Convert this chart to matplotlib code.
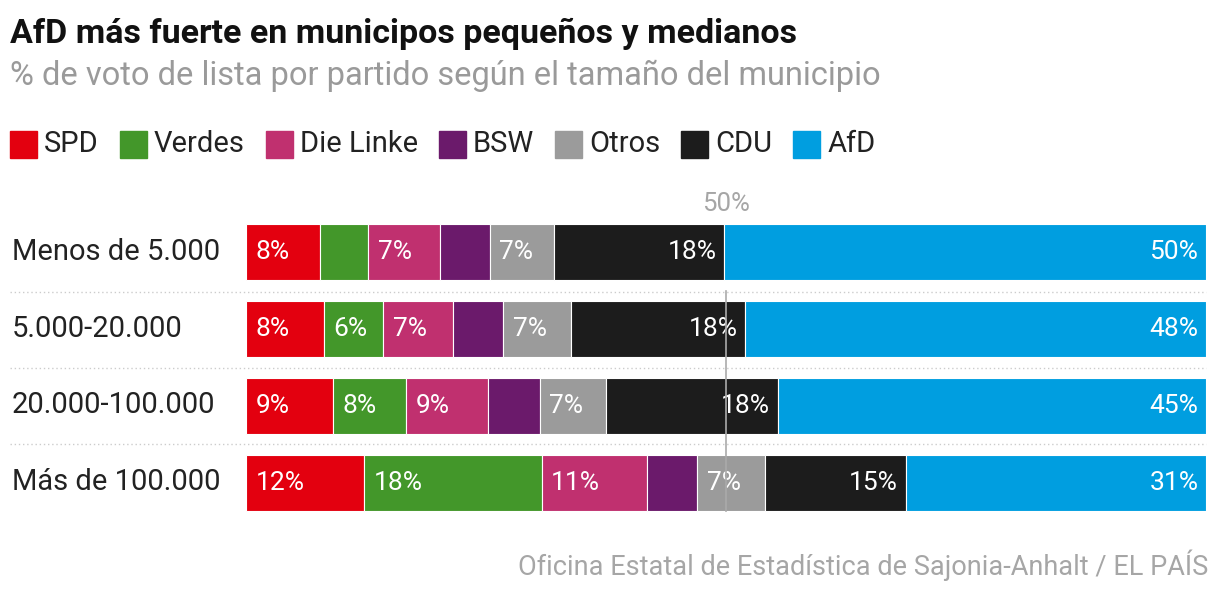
import numpy as np
import matplotlib.pyplot as plt

plt.rcParams['font.family'] = ['Roboto', 'DejaVu Sans']

categories = ['Menos de 5.000', '5.000-20.000', '20.000-100.000', 'Más de 100.000']
parties = ['SPD', 'Verdes', 'Die Linke', 'BSW', 'Otros', 'CDU', 'AfD']
colors = ['#e3000f', '#43972a', '#c0306f', '#6b1a6b', '#9b9b9b', '#1c1c1c', '#009ee0']
values = {
    'SPD':       [7.7, 8.1, 9.1, 12.3],
    'Verdes':    [5.0, 6.2, 7.6, 18.5],
    'Die Linke': [7.5, 7.3, 8.5, 11.0],
    'BSW':       [5.2, 5.2, 5.4, 5.2],
    'Otros':     [6.7, 7.1, 6.9, 7.1],
    'CDU':       [17.7, 18.1, 17.9, 14.6],
    'AfD':       [50.2, 48.0, 44.6, 31.3],
}
labels = {
    'SPD':       ['8%', '8%', '9%', '12%'],
    'Verdes':    ['', '6%', '8%', '18%'],
    'Die Linke': ['7%', '7%', '9%', '11%'],
    'BSW':       ['', '', '', ''],
    'Otros':     ['7%', '7%', '7%', '7%'],
    'CDU':       ['18%', '18%', '18%', '15%'],
    'AfD':       ['50%', '48%', '45%', '31%'],
}

W, H = 1220, 594
fig = plt.figure(figsize=(W / 100, H / 100), dpi=100)
ax = fig.add_axes([246 / W, (H - 521) / H, 960 / W, 307 / H])
ax.set_xlim(0, 100)
ax.set_ylim(3.5, -0.5)
ax.axis('off')

y = np.arange(len(categories))
left = np.zeros(len(categories))
for p, c in zip(parties, colors):
    v = np.array(values[p])
    ax.barh(y, v, left=left, height=0.73, color=c, edgecolor='white', linewidth=0.8)
    for i in range(len(categories)):
        if not labels[p][i]:
            continue
        if p in ('AfD', 'CDU'):
            ax.text(left[i] + v[i] - 0.8, y[i], labels[p][i], ha='right', va='center',
                    color='white', fontsize=19)
        else:
            ax.text(left[i] + 1.0, y[i], labels[p][i], ha='left', va='center',
                    color='white', fontsize=19)
    left += v

ax.plot([50, 50], [0.5, 3.37], color='#aaaaaa', lw=1.2, zorder=5)
ax.text(50, -0.47, '50%', ha='center', va='bottom', color='#a6a6a6', fontsize=18.5)

for i, cat in enumerate(categories):
    fig.text(12 / W, 1 - (252 + 76.7 * i) / H, cat, ha='left', va='center', fontsize=21, color='#222222')
for yy in [292, 368, 444]:
    fig.add_artist(plt.Line2D([10 / W, 1206 / W], [1 - yy / H] * 2, color='#cccccc', lw=1, ls=(0, (1, 2))))

fig.text(10 / W, 1 - 34 / H, 'AfD más fuerte en municipos pequeños y medianos', fontsize=24.5,
         fontweight='bold', va='center', color='#111111')
fig.text(10 / W, 1 - 76 / H, '% de voto de lista por partido según el tamaño del municipio', fontsize=23.5,
         va='center', color='#9a9a9a')

x = 10
for p, c in zip(parties, colors):
    fig.patches.append(plt.Rectangle((x / W, 1 - 158 / H), 27 / W, 27 / H, color=c, transform=fig.transFigure))
    t = fig.text((x + 34) / W, 1 - 144 / H, p, fontsize=21, va='center', color='#222222')
    fig.canvas.draw()
    bb = t.get_window_extent()
    x = bb.x1 + 21

fig.text(1208 / W, 1 - 565 / H, 'Oficina Estatal de Estadística de Sajonia-Anhalt / EL PAÍS', ha='right',
         va='center', fontsize=19.5, color='#a6a6a6')

fig.savefig('out.png', dpi=100, facecolor='white')
